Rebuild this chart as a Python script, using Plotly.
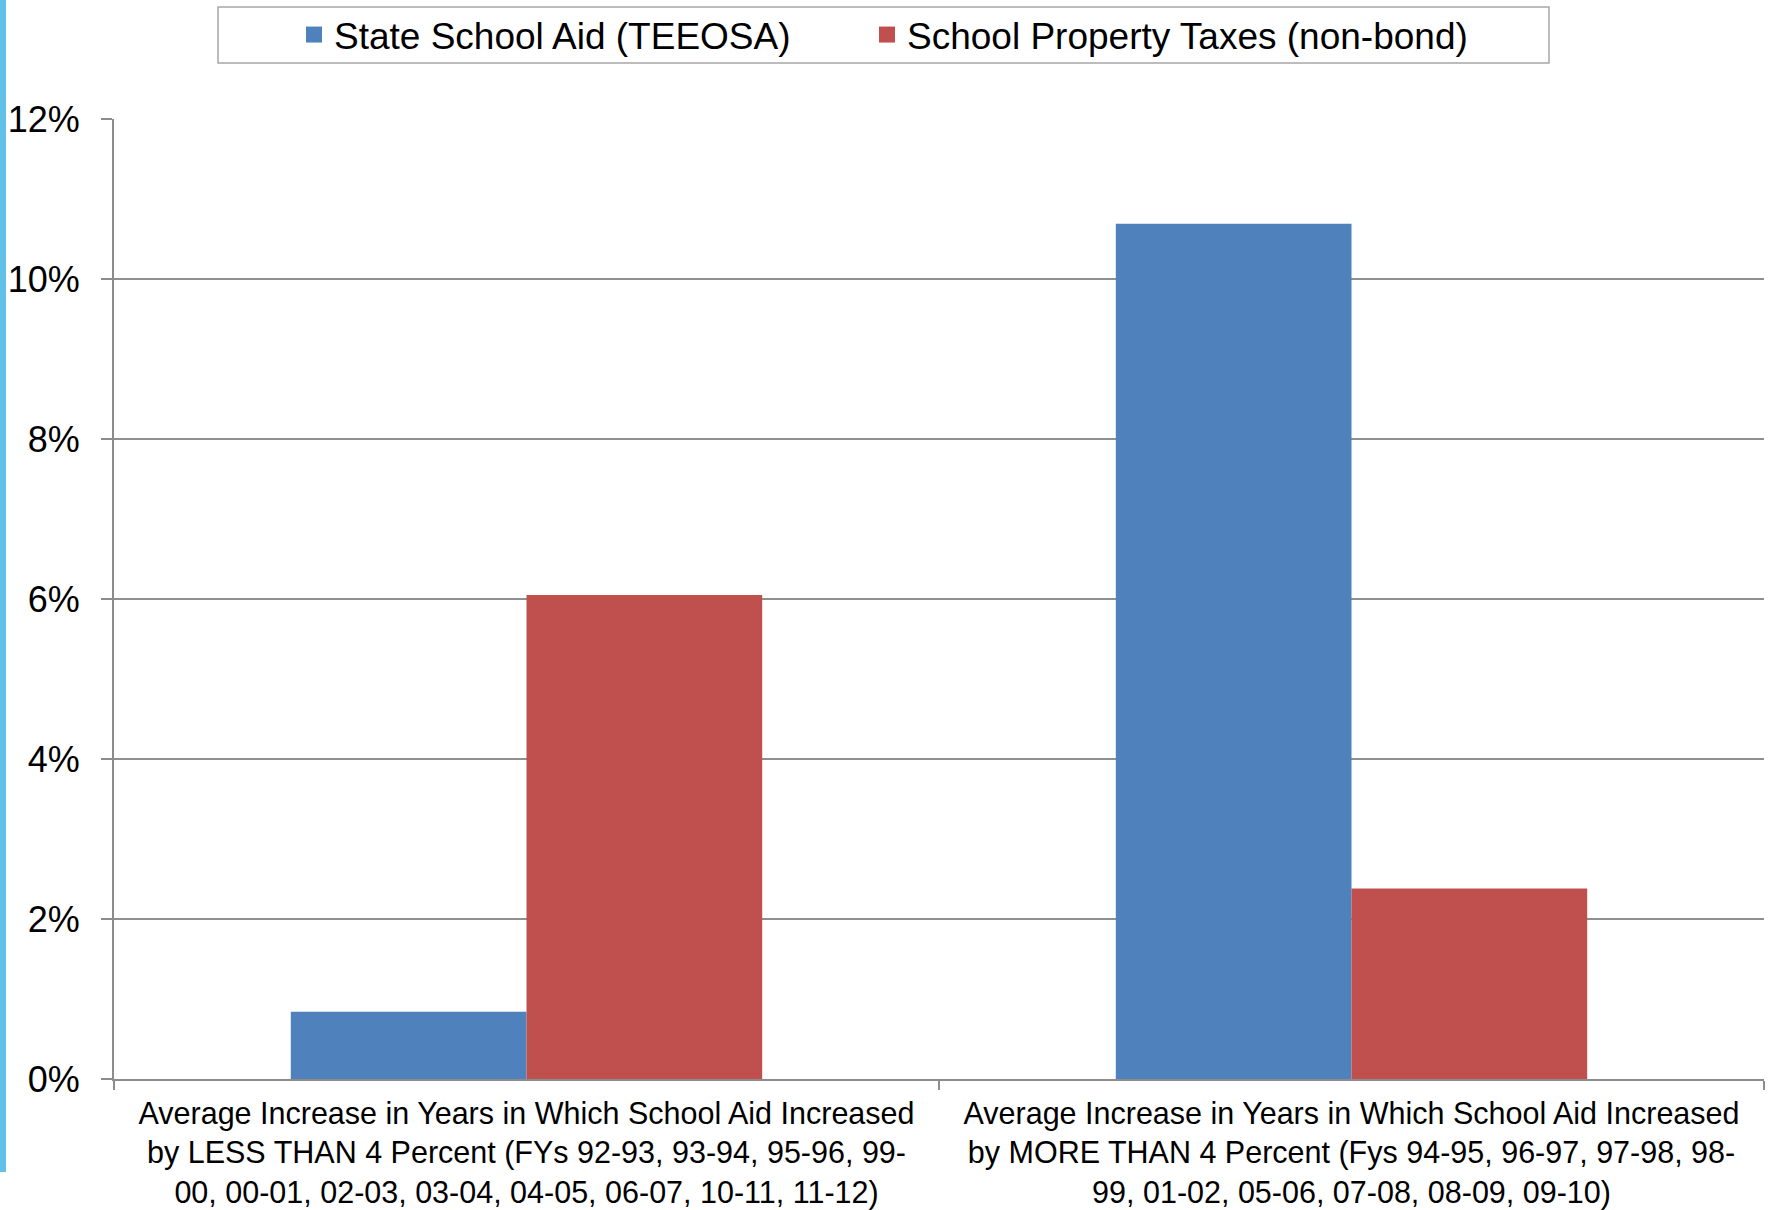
import plotly.graph_objects as go

categories = [
    "Average Increase in Years in Which School Aid Increased<br>by LESS THAN 4 Percent (FYs 92-93, 93-94, 95-96, 99-<br>00, 00-01, 02-03, 03-04, 04-05, 06-07, 10-11, 11-12)",
    "Average Increase in Years in Which School Aid Increased<br>by MORE THAN 4 Percent (Fys 94-95, 96-97, 97-98, 98-<br>99, 01-02, 05-06, 07-08, 08-09, 09-10)",
]
state_aid = [0.84, 10.69]
property_tax = [6.05, 2.38]
series_names = ["State School Aid (TEEOSA)", "School Property Taxes (non-bond)"]
series_colors = ["#4f81bd", "#c0504d"]
y_tick_vals = [0, 2, 4, 6, 8, 10, 12]
y_tick_text = ["0%", "2%", "4%", "6%", "8%", "10%", "12%"]

W, H = 1770, 1210
L, R, T, B = 114, 6, 119, 131
PW, PH = W - L - R, H - T - B

def px_x(p):
    return (p - L) / PW

def px_y(p):
    return (H - B - p) / PH

FONT = "Liberation Sans, Arial, sans-serif"
fig = go.Figure()
for name, vals, col in zip(series_names, [state_aid, property_tax], series_colors):
    fig.add_trace(go.Bar(x=categories, y=vals, name=name, marker=dict(color=col, line=dict(width=0)),
                         showlegend=False))

# legend entries (square swatches)
lw = [528, 580]
for name, col, w in zip(series_names, series_colors, lw):
    fig.add_trace(go.Scatter(x=[None], y=[None], mode="markers", name=name,
                             marker=dict(symbol="square", size=16, color=col, line=dict(width=0)),
                             legendwidth=w))

fig.update_layout(
    width=W, height=H,
    margin=dict(l=L, r=R, t=T, b=B, autoexpand=False),
    paper_bgcolor="white", plot_bgcolor="white",
    barmode="group", bargap=0.4286, bargroupgap=0,
    font=dict(family=FONT, color="black"),
    legend=dict(orientation="h", xref="container", yref="container",
                x=294 / W, xanchor="left", y=1 - 35 / H, yanchor="middle",
                font=dict(size=37, family=FONT, color="black"),
                bgcolor="rgba(0,0,0,0)", borderwidth=0, itemclick=False,
                tracegroupgap=0),
    showlegend=True,
    xaxis=dict(type="category", showgrid=False, showline=True, linecolor="#8c8c8c", linewidth=2,
               ticks="outside", tickson="boundaries", ticklen=9, tickcolor="#8c8c8c", tickwidth=2,
               tickfont=dict(size=30.5, family=FONT, color="black"), tickangle=0,
               ticklabelstandoff=6, automargin=False,
               range=[-0.5, 1.5], fixedrange=True),
    yaxis=dict(range=[0, 12], tickvals=y_tick_vals, ticktext=y_tick_text,
               showgrid=True, gridcolor="#8f8f8f", gridwidth=1.5,
               showline=True, linecolor="#8c8c8c", linewidth=2,
               ticks="outside", ticklen=11, tickcolor="#8c8c8c", tickwidth=2,
               tickfont=dict(size=36, family=FONT, color="black"),
               ticklabelstandoff=14, zeroline=False, fixedrange=True, automargin=False),
    shapes=[
        dict(type="rect", xref="paper", yref="paper",
             x0=px_x(218), x1=px_x(1549), y0=px_y(63), y1=px_y(7),
             line=dict(color="#a6a6a6", width=1.5), fillcolor="rgba(0,0,0,0)", layer="above"),
        dict(type="rect", xref="paper", yref="paper",
             x0=px_x(0), x1=px_x(6), y0=px_y(1172), y1=px_y(0),
             line=dict(width=0), fillcolor="#62c1e6", layer="above"),
    ],
)

fig.write_html("out.html", config={"displayModeBar": False},
               post_script="document.body.style.margin='0';document.body.style.padding='0';document.body.style.overflow='hidden';")
